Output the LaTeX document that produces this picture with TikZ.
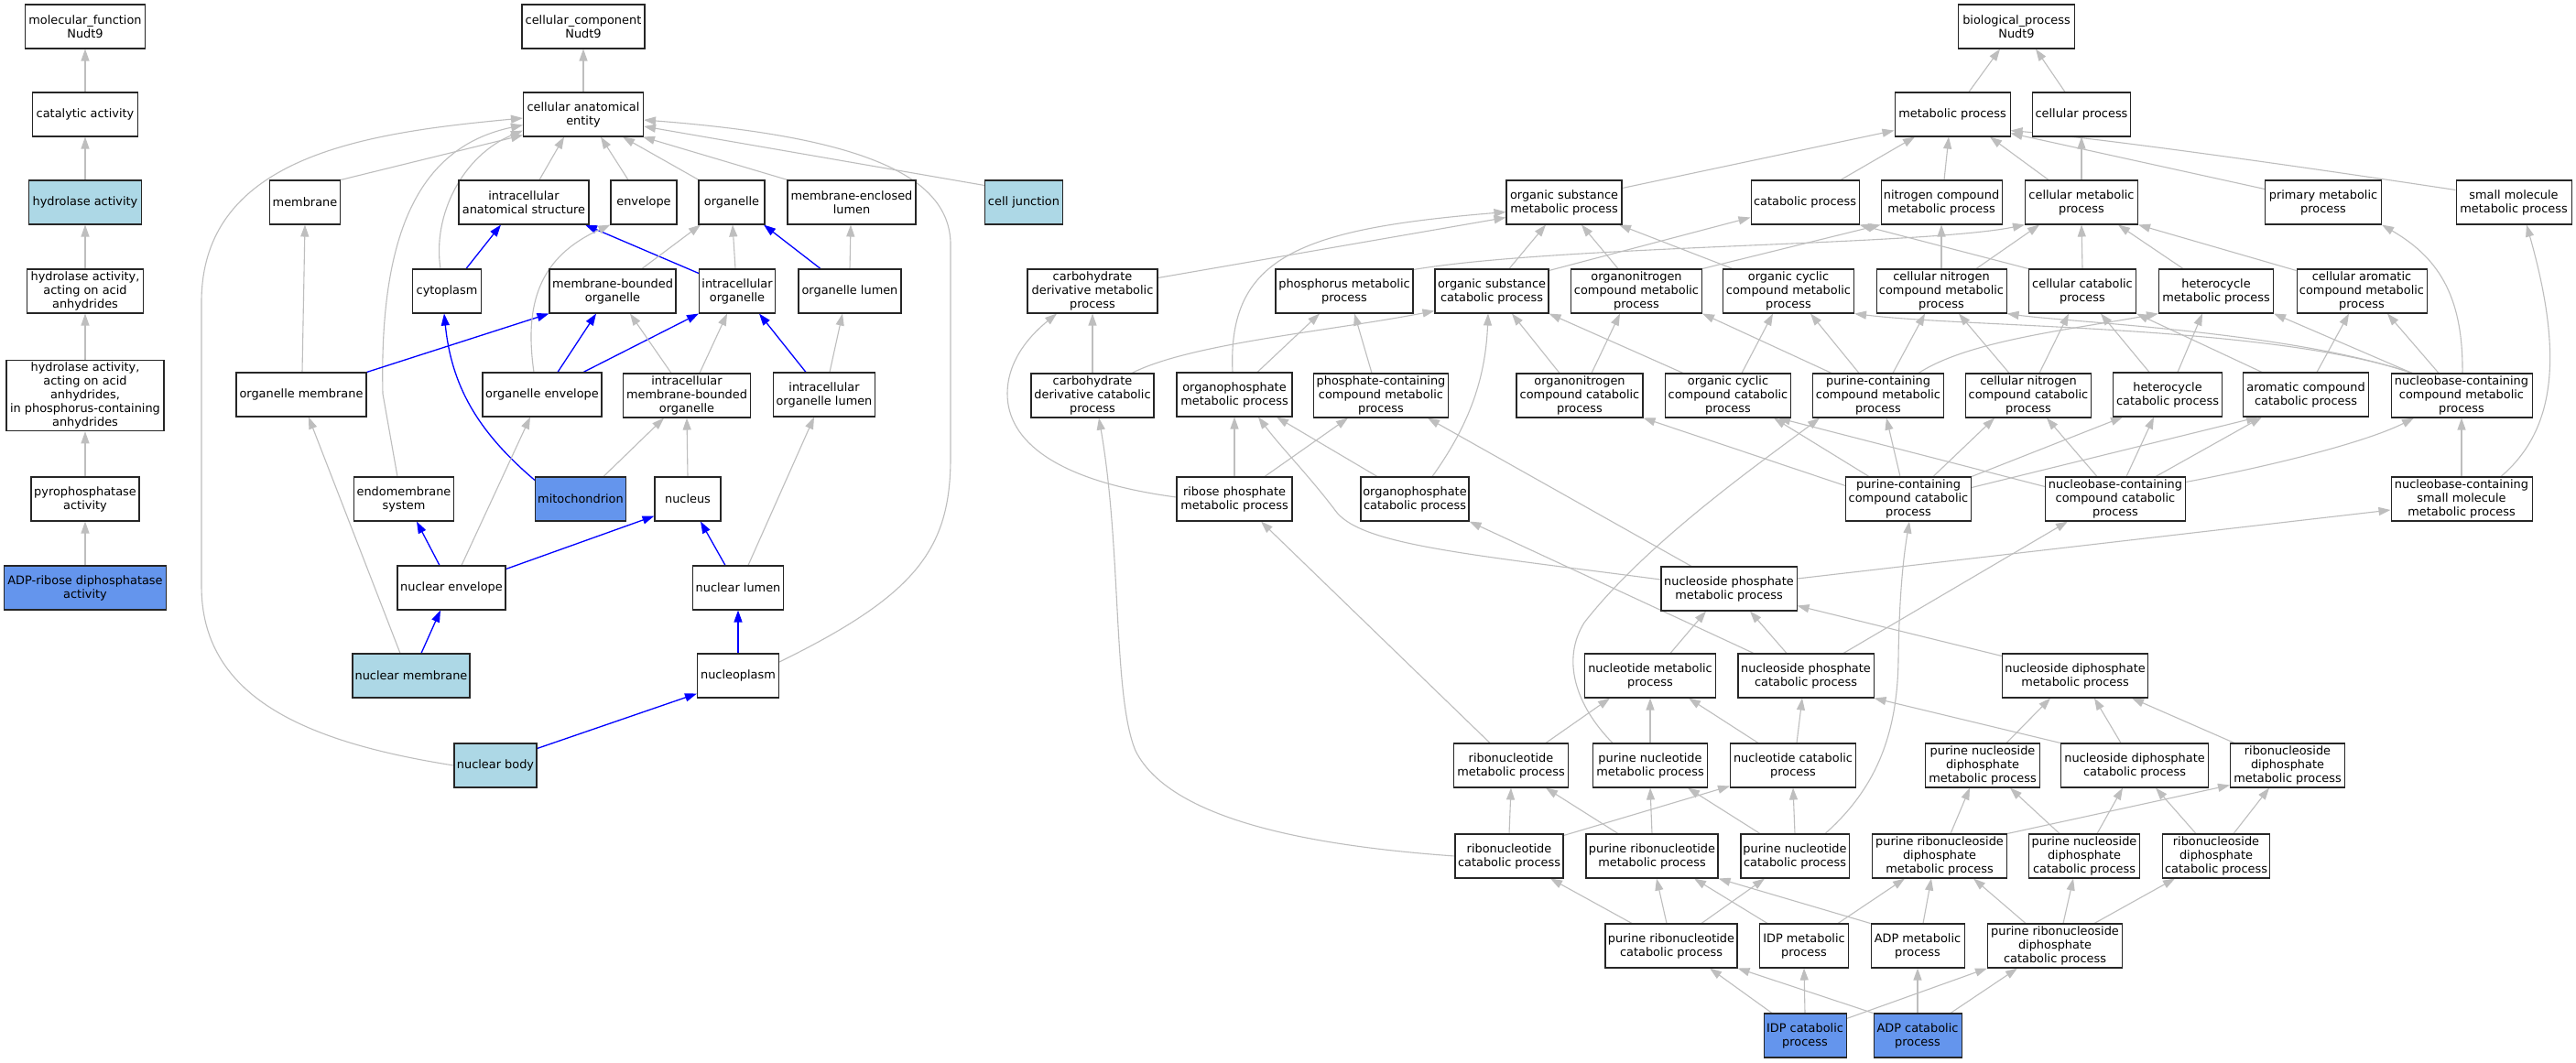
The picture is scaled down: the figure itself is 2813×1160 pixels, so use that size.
\documentclass[tikz,border=0pt]{standalone}
\usepackage{fontspec}
\setmainfont{DejaVu Sans}
\usetikzlibrary{arrows.meta}
\pgfdeclarelayer{back}
\pgfdeclarelayer{bg}
\pgfsetlayers{back,bg,main}
\definecolor{lblue}{HTML}{ADD8E6}
\definecolor{cblue}{HTML}{6495ED}
\definecolor{egray}{RGB}{190,190,190}
\tikzset{
 box/.style={draw=black!85, line width=1.05pt, fill=white, font=\fontsize{12.9}{15}\selectfont, align=center, inner xsep=2pt, inner ysep=2.5pt, minimum height=48pt},
 lb/.style={fill=lblue}, cb/.style={fill=cblue},
 ge/.style={draw=egray, line width=1.1pt, -{Triangle[length=13pt,width=9pt]}},
 be/.style={draw=blue, line width=1.3pt, -{Triangle[length=13pt,width=9pt]}},
}
\newcommand\GEdge[4]{\draw[ge] ([xshift=#2pt]#1.north) -- ([xshift=#4pt]#3.south);}
\newcommand\BEdge[4]{\draw[be] ([xshift=#2pt]#1.north) -- ([xshift=#4pt]#3.south);}
\begin{document}
\begin{tikzpicture}[x=1pt,y=-1pt]
\begin{pgfonlayer}{back}
\fill[white] (0,0) rectangle (2813,1160);
\end{pgfonlayer}
\useasboundingbox (0,0) rectangle (2813,1160);
% ---------------- molecular function
\node[box,minimum width=131pt] (mf) at (93,29) {molecular\_function\\Nudt9};
\node[box,minimum width=115pt] (cat) at (93,125) {catalytic activity};
\node[box,lb,minimum width=123pt] (hyd) at (93,221) {hydrolase activity};
\node[box,minimum width=127pt] (hyda) at (93,318) {hydrolase activity,\\acting on acid\\anhydrides};
\node[box,minimum width=172pt] (hydp) at (93,432) {hydrolase activity,\\acting on acid\\anhydrides,\\in phosphorus-containing\\anhydrides};
\node[box,minimum width=118pt] (pyro) at (93,545) {pyrophosphatase\\activity};
\node[box,cb,minimum width=177pt] (adpr) at (93,642) {ADP-ribose diphosphatase\\activity};
% ---------------- cellular component
\node[box,minimum width=134pt] (ccomp) at (637,29) {cellular\_component\\Nudt9};
\node[box,minimum width=131pt] (cae) at (637,125) {cellular anatomical\\entity};
\node[box,minimum width=77pt] (memb) at (333,221) {membrane};
\node[box,minimum width=142pt] (ias) at (572,221) {intracellular\\anatomical structure};
\node[box,minimum width=72pt] (env) at (703,221) {envelope};
\node[box,minimum width=72pt] (org) at (799,221) {organelle};
\node[box,minimum width=140pt] (mel) at (930,221) {membrane-enclosed\\lumen};
\node[box,lb,minimum width=85pt] (cj) at (1118,221) {cell junction};
\node[box,minimum width=75pt] (cyto) at (488,318) {cytoplasm};
\node[box,minimum width=138pt] (mbo) at (669,318) {membrane-bounded\\organelle};
\node[box,minimum width=83pt] (io) at (805,318) {intracellular\\organelle};
\node[box,minimum width=112pt] (ol) at (928,318) {organelle lumen};
\node[box,minimum width=142pt] (om) at (329,431) {organelle membrane};
\node[box,minimum width=130pt] (oe) at (592,431) {organelle envelope};
\node[box,minimum width=139pt] (imbo) at (750,432) {intracellular\\membrane-bounded\\organelle};
\node[box,minimum width=111pt] (iol) at (900,431) {intracellular\\organelle lumen};
\node[box,minimum width=109pt] (es) at (441,545) {endomembrane\\system};
\node[box,cb,minimum width=99pt] (mito) at (634,545) {mitochondrion};
\node[box,minimum width=72pt] (nuc) at (751,545) {nucleus};
\node[box,minimum width=118pt] (ne) at (493,642) {nuclear envelope};
\node[box,minimum width=99pt] (nl) at (806,642) {nuclear lumen};
\node[box,lb,minimum width=128pt] (nm) at (449,738) {nuclear membrane};
\node[box,minimum width=89pt] (np) at (806,738) {nucleoplasm};
\node[box,lb,minimum width=90pt] (nb) at (541,836) {nuclear body};
% ---------------- biological process
\node[box,minimum width=127pt] (bp) at (2202,29) {biological\_process\\Nudt9};
\node[box,minimum width=126pt] (mp) at (2132,125) {metabolic process};
\node[box,minimum width=107pt] (cp) at (2273,125) {cellular process};
\node[box,minimum width=126pt] (osmp) at (1708,221) {organic substance\\metabolic process};
\node[box,minimum width=118pt] (catp) at (1971,221) {catabolic process};
\node[box,minimum width=132pt] (ncmp) at (2120,221) {nitrogen compound\\metabolic process};
\node[box,minimum width=123pt] (cmp) at (2273,221) {cellular metabolic\\process};
\node[box,minimum width=127pt] (pmp) at (2537,221) {primary metabolic\\process};
\node[box,minimum width=126pt] (smmp) at (2745,221) {small molecule\\metabolic process};
\node[box,minimum width=142pt] (cdmp) at (1193,318) {carbohydrate\\derivative metabolic\\process};
\node[box,minimum width=150pt] (phmp) at (1468,318) {phosphorus metabolic\\process};
\node[box,minimum width=124pt] (oscp) at (1629,318) {organic substance\\catabolic process};
\node[box,minimum width=143pt] (oncmp) at (1787,318) {organonitrogen\\compound metabolic\\process};
\node[box,minimum width=143pt] (ocmp) at (1953,318) {organic cyclic\\compound metabolic\\process};
\node[box,minimum width=142pt] (cnmp) at (2120,318) {cellular nitrogen\\compound metabolic\\process};
\node[box,minimum width=117pt] (ccp) at (2274,318) {cellular catabolic\\process};
\node[box,minimum width=125pt] (hmp) at (2420,318) {heterocycle\\metabolic process};
\node[box,minimum width=142pt] (camp) at (2579,318) {cellular aromatic\\compound metabolic\\process};
\node[box,minimum width=134pt] (cdcp) at (1193,432) {carbohydrate\\derivative catabolic\\process};
\node[box,minimum width=126pt] (opmp) at (1348,431) {organophosphate\\metabolic process};
\node[box,minimum width=147pt] (pcmp) at (1508,432) {phosphate-containing\\compound metabolic\\process};
\node[box,minimum width=138pt] (oncp) at (1725,432) {organonitrogen\\compound catabolic\\process};
\node[box,minimum width=137pt] (occp) at (1887,432) {organic cyclic\\compound catabolic\\process};
\node[box,minimum width=143pt] (pccmp) at (2051,432) {purine-containing\\compound metabolic\\process};
\node[box,minimum width=137pt] (cnccp) at (2215,432) {cellular nitrogen\\compound catabolic\\process};
\node[box,minimum width=119pt] (hcp) at (2367,431) {heterocycle\\catabolic process};
\node[box,minimum width=137pt] (acp) at (2518,431) {aromatic compound\\catabolic process};
\node[box,minimum width=154pt] (nbcmp) at (2688,432) {nucleobase-containing\\compound metabolic\\process};
\node[box,minimum width=126pt] (rpmp) at (1348,545) {ribose phosphate\\metabolic process};
\node[box,minimum width=118pt] (opcp) at (1545,545) {organophosphate\\catabolic process};
\node[box,minimum width=137pt] (pccp) at (2084,545) {purine-containing\\compound catabolic\\process};
\node[box,minimum width=153pt] (nbccp) at (2310,545) {nucleobase-containing\\compound catabolic\\process};
\node[box,minimum width=154pt] (nbsmmp) at (2688,545) {nucleobase-containing\\small molecule\\metabolic process};
\node[box,minimum width=148pt] (npmp) at (1888,643) {nucleoside phosphate\\metabolic process};
\node[box,minimum width=143pt] (ntmp) at (1802,738) {nucleotide metabolic\\process};
\node[box,minimum width=148pt] (npcp) at (1972,738) {nucleoside phosphate\\catabolic process};
\node[box,minimum width=159pt] (ndmp) at (2266,738) {nucleoside diphosphate\\metabolic process};
\node[box,minimum width=125pt] (rnmp) at (1650,836) {ribonucleotide\\metabolic process};
\node[box,minimum width=125pt] (pnmp) at (1802,836) {purine nucleotide\\metabolic process};
\node[box,minimum width=137pt] (ntcp) at (1958,836) {nucleotide catabolic\\process};
\node[box,minimum width=125pt] (pndmp) at (2165,836) {purine nucleoside\\diphosphate\\metabolic process};
\node[box,minimum width=161pt] (ndcp) at (2331,836) {nucleoside diphosphate\\catabolic process};
\node[box,minimum width=125pt] (rndmp) at (2498,836) {ribonucleoside\\diphosphate\\metabolic process};
\node[box,minimum width=118pt] (rncp) at (1648,935) {ribonucleotide\\catabolic process};
\node[box,minimum width=144pt] (prnmp) at (1804,935) {purine ribonucleotide\\metabolic process};
\node[box,minimum width=118pt] (pncp) at (1960,935) {purine nucleotide\\catabolic process};
\node[box,minimum width=147pt] (prndmp) at (2118,935) {purine ribonucleoside\\diphosphate\\metabolic process};
\node[box,minimum width=121pt] (pndcp) at (2276,935) {purine nucleoside\\diphosphate\\catabolic process};
\node[box,minimum width=117pt] (rndcp) at (2420,935) {ribonucleoside\\diphosphate\\catabolic process};
\node[box,minimum width=144pt] (prncp) at (1825,1033) {purine ribonucleotide\\catabolic process};
\node[box,minimum width=97pt] (idpmp) at (1970,1033) {IDP metabolic\\process};
\node[box,minimum width=102pt] (adpmp) at (2094,1033) {ADP metabolic\\process};
\node[box,minimum width=147pt] (prndcp) at (2244,1033) {purine ribonucleoside\\diphosphate\\catabolic process};
\node[box,cb,minimum width=90pt] (idpcp) at (1971,1131) {IDP catabolic\\process};
\node[box,cb,minimum width=96pt] (adpcp) at (2094,1131) {ADP catabolic\\process};

\begin{pgfonlayer}{bg}
% MF
\GEdge{cat}{0}{mf}{0}
\GEdge{hyd}{0}{cat}{0}
\GEdge{hyda}{0}{hyd}{0}
\GEdge{hydp}{0}{hyda}{0}
\GEdge{pyro}{0}{hydp}{0}
\GEdge{adpr}{0}{pyro}{0}
% CC
\GEdge{cae}{0}{ccomp}{0}
\draw[ge] (memb.north east) -- ([yshift=2pt]cae.south west);
\GEdge{ias}{17}{cae}{-21}
\GEdge{env}{-17}{cae}{19}
\GEdge{org}{-36}{cae}{43}
\GEdge{mel}{-70}{cae}{65}
\draw[ge] ([yshift=-6pt]cj.north west) -- ([yshift=-13pt]cae.east);
\draw[ge] ([xshift=-7pt]cyto.north) .. controls (472,235) and (505,170) .. ([yshift=7pt]cae.south west);
\draw[ge] ([xshift=-7pt]es.north) -- (418,430) .. controls (414,250) and (460,160) .. ([yshift=13pt]cae.south west);
\draw[ge] (nb.west) .. controls (330,810) and (220,760) .. (220,640) -- (220,330) .. controls (220,170) and (400,145) .. ([yshift=-4pt]cae.west);
\draw[ge] ([yshift=15pt]np.east) .. controls (1000,650) and (1038,600) .. (1038,500) -- (1038,270) .. controls (1040,195) and (950,150) .. ([yshift=-6pt]cae.east);
\GEdge{om}{1}{memb}{0}
\BEdge{cyto}{21}{ias}{-25}
\draw[be] ([yshift=-5pt]io.north west) -- ([xshift=67pt]ias.south);
\GEdge{io}{-2}{org}{1}
\GEdge{mbo}{32}{org}{-34}
\BEdge{ol}{-32}{org}{35}
\GEdge{ol}{0}{mel}{-1}
\draw[be] (om.north east) -- (mbo.south west);
\BEdge{oe}{17}{mbo}{-18}
\draw[be] ([xshift=45pt]oe.north) -- (io.south west);
\GEdge{imbo}{-17}{mbo}{19}
\GEdge{imbo}{14}{io}{-11}
\BEdge{iol}{-20}{io}{24}
\GEdge{iol}{6}{ol}{-8}
\draw[ge] ([xshift=-9pt]oe.north) .. controls (572,330) and (590,280) .. (env.south west);
\draw[be] ([yshift=-4pt]mito.north west) .. controls (520,470) and (493,420) .. ([xshift=-3pt]cyto.south);
\GEdge{mito}{25}{imbo}{-25}
\GEdge{nuc}{0}{imbo}{0}
\BEdge{ne}{-13}{es}{14}
\GEdge{ne}{11}{oe}{-13}
\draw[be] ([yshift=-4pt]ne.north east) -- ([yshift=6pt]nuc.south west);
\BEdge{nl}{-14}{nuc}{14}
\GEdge{nl}{11}{iol}{-11}
\BEdge{nm}{11}{ne}{-12}
\GEdge{nm}{-12}{om}{8}
\BEdge{np}{0}{nl}{0}
\draw[be] ([yshift=-6pt]nb.north east) -- ([yshift=5pt]np.south west);
% BP rows 1-2
\GEdge{mp}{18}{bp}{-18}
\GEdge{cp}{-18}{bp}{21}
\draw[ge] ([yshift=-9pt]osmp.north east) -- ([yshift=7pt]mp.south west);
\GEdge{catp}{39}{mp}{-41}
\GEdge{ncmp}{3}{mp}{-4}
\GEdge{cmp}{-36}{mp}{41}
\GEdge{cmp}{0}{cp}{0}
\draw[ge] ([yshift=-10pt]pmp.north west) -- ([yshift=4pt]mp.south east);
\draw[ge] ([yshift=-11pt]smmp.north west) .. controls (2500,180) and (2300,152) .. ([yshift=7pt]mp.south east);
% row 3 -> 2
\draw[ge] ([yshift=-10pt]cdmp.north east) -- ([yshift=8pt]osmp.south west);
\draw[ge] ([yshift=-1pt]phmp.north east) .. controls (1700,268) and (2100,268) .. (cmp.south west);
\GEdge{oscp}{19}{osmp}{-20}
\draw[ge] ([yshift=-2pt]oscp.north east) -- ([yshift=8pt]catp.south west);
\GEdge{oncmp}{-20}{osmp}{19}
\draw[ge] (oncmp.north east) -- (ncmp.south west);
\GEdge{ocmp}{-61}{osmp}{60}
\GEdge{cnmp}{0}{ncmp}{0}
\GEdge{cnmp}{38}{cmp}{-46}
\draw[ge] (ccp.north west) -- (catp.south east);
\GEdge{ccp}{0}{cmp}{0}
\GEdge{hmp}{-36}{cmp}{40}
\draw[ge] ([yshift=-2pt]camp.north west) -- (cmp.south east);
% row 4 -> 3
\GEdge{cdcp}{0}{cdmp}{0}
\draw[ge] ([xshift=43pt]cdcp.north) .. controls (1300,375) and (1450,362) .. ([yshift=3pt]oscp.south west);
\GEdge{opmp}{25}{phmp}{-27}
\draw[ge] ([xshift=-2pt]opmp.north) .. controls (1340,280) and (1420,250) .. ([yshift=14pt]osmp.south west);
\GEdge{pcmp}{-10}{phmp}{11}
\GEdge{oncp}{-22}{oscp}{22}
\GEdge{oncp}{13}{oncmp}{-18}
\draw[ge] ([xshift=-49pt]occp.north) -- (oscp.south east);
\GEdge{occp}{15}{ocmp}{-17}
\draw[ge] ([xshift=-51pt]pccmp.north) -- (oncmp.south east);
\GEdge{pccmp}{-21}{ocmp}{24}
\GEdge{pccmp}{16}{cnmp}{-18}
\draw[ge] ([xshift=44pt]pccmp.north) .. controls (2150,372) and (2260,360) .. (hmp.south west);
\GEdge{cnccp}{-21}{cnmp}{19}
\GEdge{cnccp}{12}{ccp}{-15}
\GEdge{hcp}{-20}{ccp}{20}
\GEdge{hcp}{11}{hmp}{-15}
\draw[ge] ([xshift=-48pt]acp.north) -- (ccp.south east);
\GEdge{acp}{12}{camp}{-14}
\draw[ge] ([xshift=-54pt]nbcmp.north) -- (hmp.south east);
\draw[ge] ([xshift=-54pt]nbcmp.north) .. controls (2480,355) and (2150,358) .. (ocmp.south east);
\draw[ge] ([xshift=-54pt]nbcmp.north) .. controls (2500,362) and (2260,352) .. (cnmp.south east);
\GEdge{nbcmp}{-25}{camp}{28}
\draw[ge] ([xshift=1pt]nbcmp.north) .. controls (2690,320) and (2660,280) .. (pmp.south east);
% row 5 -> 4
\GEdge{rpmp}{0}{opmp}{0}
\GEdge{rpmp}{33}{pcmp}{-36}
\draw[ge] ([yshift=2pt]rpmp.west) .. controls (1150,525) and (1100,480) .. (1100,430) .. controls (1100,390) and (1130,362) .. ([xshift=-39pt]cdmp.south);
\GEdge{opcp}{-41}{opmp}{46}
\draw[ge] ([xshift=19pt]opcp.north) .. controls (1600,470) and (1622,420) .. ([xshift=-4pt]oscp.south);
\GEdge{pccp}{-9}{pccmp}{9}
\draw[ge] ([yshift=-10pt]pccp.north west) -- (oncp.south east);
\GEdge{pccp}{-43}{occp}{50}
\GEdge{pccp}{27}{cnccp}{-37}
\draw[ge] (pccp.north east) -- ([xshift=-49pt]hcp.south);
\draw[ge] ([yshift=-12pt]pccp.north east) -- ([xshift=-52pt]acp.south);
\GEdge{nbccp}{-20}{cnccp}{20}
\GEdge{nbccp}{12}{hcp}{-15}
\GEdge{nbccp}{44}{acp}{-48}
\draw[ge] ([yshift=-6pt]nbccp.north east) .. controls (2500,505) and (2590,480) .. ([xshift=-52pt]nbcmp.south);
\draw[ge] ([yshift=-11pt]nbccp.north west) -- ([xshift=55pt]occp.south);
\GEdge{nbsmmp}{0}{nbcmp}{0}
\draw[ge] ([xshift=43pt]nbsmmp.north) .. controls (2790,470) and (2800,390) .. ([xshift=14pt]smmp.south);
% row 6
\draw[ge] ([yshift=10pt]npmp.west) .. controls (1600,605) and (1490,595) .. (1460,560) .. controls (1430,520) and (1400,490) .. ([xshift=26pt]opmp.south);
\GEdge{npmp}{-41}{pcmp}{51}
\draw[ge] ([yshift=11pt]npmp.east) -- ([yshift=-12pt]nbsmmp.west);
% row 7
\GEdge{ntmp}{22}{npmp}{-25}
\GEdge{npcp}{-21}{npmp}{23}
\draw[ge] ([xshift=-57pt]npcp.north) -- (opcp.south east);
\GEdge{npcp}{41}{nbccp}{-52}
\draw[ge] ([yshift=-3pt]ndmp.north west) -- ([yshift=6pt]npmp.south east);
% row 8
\GEdge{rnmp}{38}{ntmp}{-44}
\GEdge{rnmp}{-23}{rpmp}{29}
\GEdge{pnmp}{0}{ntmp}{0}
\draw[ge] ([xshift=-41pt]pnmp.north) .. controls (1720,770) and (1705,720) .. (1730,680) .. controls (1800,590) and (1930,500) .. ([xshift=-64pt]pccmp.south);
\GEdge{ntcp}{-38}{ntmp}{42}
\GEdge{ntcp}{4}{npcp}{-4}
\GEdge{pndmp}{26}{ndmp}{-27}
\GEdge{ndcp}{-15}{ndmp}{21}
\draw[ge] (ndcp.north west) -- (npcp.south east);
\GEdge{rndmp}{-58}{ndmp}{62}
% row 9
\GEdge{rncp}{0}{rnmp}{0}
\draw[ge] ([yshift=-2pt]rncp.north east) -- ([yshift=2pt]ntcp.south west);
\draw[ge] (rncp.west) .. controls (1450,925) and (1280,900) .. (1240,820) .. controls (1215,760) and (1225,600) .. ([xshift=7pt]cdcp.south);
\GEdge{prnmp}{-37}{rnmp}{38}
\GEdge{prnmp}{0}{pnmp}{0}
\GEdge{pncp}{-38}{pnmp}{41}
\GEdge{pncp}{0}{ntcp}{0}
\draw[ge] ([xshift=33pt]pncp.north) .. controls (2050,860) and (2072,800) .. (2073,720) .. controls (2074,640) and (2080,600) .. ([xshift=1pt]pccp.south);
\GEdge{prndmp}{12}{pndmp}{-14}
\draw[ge] (prndmp.north east) -- ([yshift=3pt]rndmp.south west);
\GEdge{pndcp}{-27}{pndmp}{30}
\GEdge{pndcp}{14}{ndcp}{-13}
\GEdge{rndcp}{-22}{ndcp}{23}
\GEdge{rndcp}{19}{rndmp}{-20}
% row 10
\GEdge{prncp}{-43}{rncp}{45}
\GEdge{prncp}{-5}{prnmp}{5}
\GEdge{prncp}{33}{pncp}{-33}
\GEdge{idpmp}{-40}{prnmp}{46}
\GEdge{idpmp}{37}{prndmp}{-38}
\draw[ge] (adpmp.north west) -- (prnmp.south east);
\GEdge{adpmp}{6}{prndmp}{-9}
\GEdge{prndcp}{-32}{prndmp}{37}
\GEdge{prndcp}{9}{pndcp}{-12}
\GEdge{prndcp}{43}{rndcp}{-45}
% row 11
\GEdge{idpcp}{-36}{prncp}{42}
\GEdge{idpcp}{0}{idpmp}{0}
\draw[ge] ([yshift=-6pt]idpcp.north east) -- (prndcp.south west);
\draw[ge] (adpcp.north west) -- (prncp.south east);
\GEdge{adpcp}{0}{adpmp}{0}
\GEdge{adpcp}{36}{prndcp}{-41}
\end{pgfonlayer}
\end{tikzpicture}
\end{document}
